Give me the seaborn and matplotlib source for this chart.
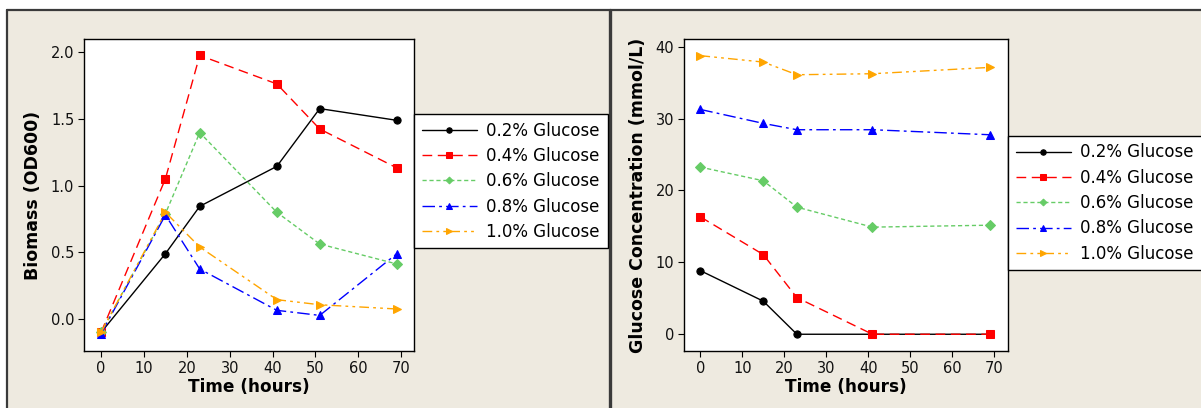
import matplotlib
matplotlib.use("Agg")
import matplotlib.pyplot as plt
from matplotlib.lines import Line2D
from matplotlib.patches import Rectangle
import seaborn as sns
import pandas as pd

# ---- data ----
labels = ["0.2% Glucose", "0.4% Glucose", "0.6% Glucose", "0.8% Glucose", "1.0% Glucose"]

time_biomass = [0, 15, 23, 41, 51, 69]
biomass_02 = [-0.10, 0.49, 0.845, 1.145, 1.578, 1.49]
biomass_04 = [-0.10, 1.052, 1.977, 1.763, 1.425, 1.133]
biomass_06 = [-0.10, 0.79, 1.398, 0.80, 0.5625, 0.4125]
biomass_08 = [-0.11, 0.78, 0.375, 0.065, 0.027, 0.49]
biomass_10 = [-0.10, 0.80, 0.54, 0.145, 0.107, 0.075]

time_glucose = [0, 15, 23, 41, 69]
glucose_02 = [8.85, 4.6, 0.0, 0.0, 0.0]
glucose_04 = [16.33, 11.08, 5.1, 0.0, 0.0]
glucose_06 = [23.25, 21.35, 17.68, 14.9, 15.17]
glucose_08 = [31.27, 29.33, 28.45, 28.45, 27.75]
glucose_10 = [38.75, 37.86, 36.1, 36.24, 37.12]

biomass_series = [biomass_02, biomass_04, biomass_06, biomass_08, biomass_10]
glucose_series = [glucose_02, glucose_04, glucose_06, glucose_08, glucose_10]

colors = ["#000000", "#FF0000", "#66CC66", "#0000FF", "#FFA500"]
markers = ["o", "s", "D", "^", ">"]
msizes = [5.2, 5.4, 4.6, 6.0, 6.0]
linestyles = ["-", (0, (7, 4)), (0, (3, 2)), (0, (9, 3, 2, 3)), (0, (7, 3, 2, 3, 2, 3))]

sns.set_theme(style="white")
plt.rcParams["font.family"] = ["DejaVu Sans"]
plt.rcParams["text.color"] = "black"
plt.rcParams["axes.labelcolor"] = "black"

W, H = 1201, 408
fig = plt.figure(figsize=(W / 100, H / 100), dpi=100, facecolor="white")

def fx(px):
    return px / W

def fy(py):
    return 1 - py / H

# beige panel background
fig.patches.append(Rectangle((fx(7), 0), 1 - fx(7), fy(10), transform=fig.transFigure,
                             facecolor="#EEEAE0", edgecolor="none", zorder=-10))
# frame lines
for (x0, y0, x1, y1, lw) in [(7, 10, 1201, 10, 1.6), (7, 10, 7, 408, 1.6), (610, 10, 610, 408, 2.4)]:
    fig.add_artist(Line2D([fx(x0), fx(x1)], [fy(y0), fy(y1)], transform=fig.transFigure,
                          color="#3a3a3a", lw=lw, zorder=5))

ax1 = fig.add_axes([fx(84), fy(351), fx(414) - fx(84), fy(39) - fy(351)])
ax2 = fig.add_axes([fx(684), fy(351), fx(1008) - fx(684), fy(39) - fy(351)])

def draw(ax, t, series):
    for lab, vals, c, m, ms, ls in zip(labels, series, colors, markers, msizes, linestyles):
        df = pd.DataFrame({"t": t, "v": vals})
        sns.lineplot(data=df, x="t", y="v", ax=ax, color=c, marker=m, markersize=ms,
                     markeredgecolor=c, linestyle=ls, linewidth=1.0, label=lab)

draw(ax1, time_biomass, biomass_series)
draw(ax2, time_glucose, glucose_series)

ax1.set_xlim(-4, 73)
ax1.set_ylim(-0.24, 2.10)
ax1.set_yticks([0.0, 0.5, 1.0, 1.5, 2.0])
ax1.set_yticklabels(["0.0", "0.5", "1.0", "1.5", "2.0"])
ax1.set_ylabel("Biomass (OD600)", fontsize=12.5, fontweight="bold", labelpad=6)

ax2.set_xlim(-3.9, 73.3)
ax2.set_ylim(-2.33, 41.07)
ax2.set_yticks([0, 10, 20, 30, 40])
ax2.set_ylabel("Glucose Concentration (mmol/L)", fontsize=12.5, fontweight="bold", labelpad=6)

for ax in (ax1, ax2):
    ax.set_facecolor("white")
    ax.set_xticks(range(0, 71, 10))
    ax.set_xlabel("Time (hours)", fontsize=12.2, fontweight="bold", labelpad=2)
    for s in ax.spines.values():
        s.set_color("black")
        s.set_linewidth(1.0)
    ax.tick_params(axis="both", which="major", direction="out", length=4, width=0.8,
                   color="black", labelsize=10.5, labelcolor="#111111", left=True, bottom=True, pad=3)
    if ax.get_legend():
        ax.get_legend().remove()

leg_kw = dict(loc="upper left", mode="expand", borderaxespad=0, fontsize=12,
              frameon=True, fancybox=False, handlelength=3.3, handletextpad=0.6,
              labelspacing=0.44, borderpad=0.45, markerscale=0.75)

h1, l1 = ax1.get_legend_handles_labels()
lg1 = fig.legend(h1, l1, bbox_to_anchor=(fx(414), fy(248), fx(608) - fx(414), fy(114) - fy(248)),
                 bbox_transform=fig.transFigure, **leg_kw)
h2, l2 = ax2.get_legend_handles_labels()
lg2 = fig.legend(h2, l2, bbox_to_anchor=(fx(1008), fy(273), fx(1215) - fx(1008), fy(136) - fy(273)),
                 bbox_transform=fig.transFigure, **leg_kw)
for lg in (lg1, lg2):
    fr = lg.get_frame()
    fr.set_edgecolor("black")
    fr.set_linewidth(1.0)
    fr.set_facecolor("white")
    fr.set_alpha(1)

fig.savefig("out.png", dpi=100, facecolor=fig.get_facecolor())
